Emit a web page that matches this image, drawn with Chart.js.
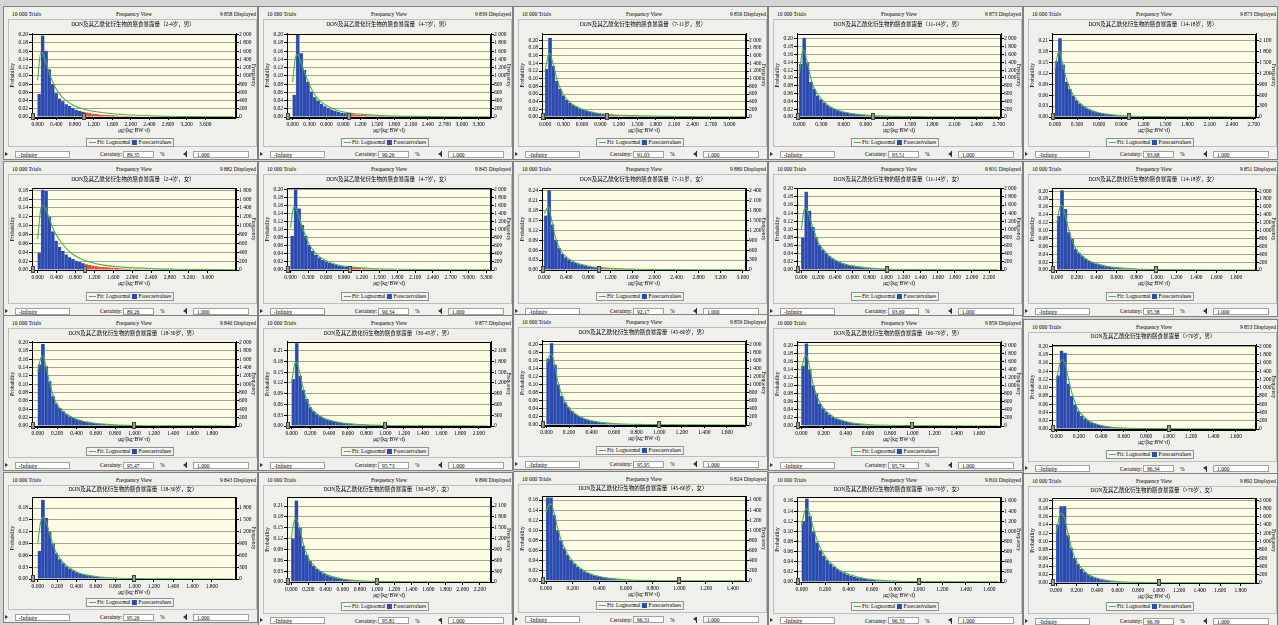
<!DOCTYPE html>
<html><head><meta charset="utf-8">
<script src="https://cdn.jsdelivr.net/npm/chart.js@4.4.0/dist/chart.umd.min.js"></script>
<style>
html,body{margin:0;padding:0;background:#d4d4d4;width:1279px;height:625px;overflow:hidden;position:relative;}
.pn{position:absolute;background:#efefeb;border:1px solid #808080;box-sizing:border-box;}
.tx{position:absolute;height:8px;line-height:8px;white-space:nowrap;font-family:"Liberation Serif","Noto Sans CJK SC",serif;font-size:5.5px;color:#000;}
.inr{position:absolute;border:1px solid #bdbdbd;box-sizing:border-box;}
.leg{position:absolute;height:9px;line-height:7px;border:1px solid #8f8f8f;background:#f3f3ef;white-space:nowrap;font-family:"Liberation Serif",serif;font-size:5.5px;padding:0 2px;box-sizing:border-box;transform:translateX(-50%);}
.gl{display:inline-block;width:7px;height:1px;background:#4caf50;vertical-align:middle;margin-right:1px;}
.bq{display:inline-block;width:5px;height:5px;background:#2b4aae;vertical-align:middle;margin:0 1px 0 2px;}
.bx{position:absolute;height:7px;line-height:6px;background:#fff;border:1px solid #a0a0a0;box-sizing:border-box;font-family:"Liberation Serif",serif;font-size:5.5px;padding-left:3px;white-space:nowrap;}
.tr{position:absolute;width:0;height:0;border-top:2.5px solid transparent;border-bottom:2.5px solid transparent;}
canvas{position:absolute;}
</style></head>
<body>
<script>
// ---------------- data ----------------
const TRIALS = '10 000 Trials';
const VIEW = 'Frequency View';
const TITLE_PREFIX = 'DON及其乙酰化衍生物的膳食暴露量';
const X_TITLE = 'μg/(kg·BW·d)';
const Y_TITLE = 'Probability';
const Y2_TITLE = 'Frequency';
const LEG_FIT = 'Fit: Lognormal';
const LEG_BAR = 'Forecastvalues';
const lowerBound = '-Infinity';
const upperBound = '1.000';
const cutoff = 1.0;
const trialsCount = 10000;

const groups = ['2-4岁，男','4-7岁，男','7-11岁，男','11-14岁，男','14-18岁，男',
  '2-4岁，女','4-7岁，女','7-11岁，女','11-14岁，女','14-18岁，女',
  '18-30岁，男','30-45岁，男','45-60岁，男','60-70岁，男','>70岁，男',
  '18-30岁，女','30-45岁，女','45-60岁，女','60-70岁，女','>70岁，女'];
const displayed = ['9 858','9 839','9 856','9 873','9 873','9 882','9 845','9 880','9 831','9 851',
  '9 840','9 877','9 859','9 859','9 853','9 843','9 890','9 824','9 810','9 892'];
const certainty = ['89.35','90.26','91.03','93.51','93.68','89.26','90.34','92.17','93.69','95.38',
  '95.47','95.73','95.95','95.74','96.34','95.26','95.81','96.31','96.33','96.39'];

const xTickStep = [0.4,0.3,0.3,0.3,0.3, 0.4,0.3,0.4,0.2,0.2, 0.2,0.2,0.2,0.2,0.2, 0.2,0.2,0.2,0.2,0.2];
const xTickLast = [3.6,3.3,3.0,2.7,2.7, 3.6,3.3,3.6,2.2,1.8, 1.8,2.0,1.6,1.6,1.6, 1.8,2.2,1.4,1.6,1.8];
const xAxisMin = [-0.12,-0.10,-0.05,-0.03,-0.04, -0.12,-0.06,-0.04,-0.05,-0.05, -0.06,-0.05,-0.04,-0.04,-0.04, -0.06,-0.05,-0.03,-0.04,-0.04];
const xAxisMax = [4.26,3.52,3.27,2.73,2.73, 4.2,3.38,3.66,2.34,2.0, 2.05,2.13,1.77,1.8,1.78, 2.05,2.33,1.5,1.7,1.95];
const yAxisMax = [0.203,0.203,0.218,0.214,0.229, 0.185,0.204,0.247,0.202,0.208, 0.202,0.235,0.21,0.21,0.205, 0.208,0.235,0.168,0.168,0.205];
const yTickStep = [0.02,0.02,0.02,0.02,0.03, 0.02,0.02,0.03,0.02,0.02, 0.02,0.03,0.02,0.02,0.02, 0.03,0.03,0.02,0.02,0.02];
const binWidth = [0.072,0.060,0.054,0.045,0.045, 0.071,0.057,0.060,0.039,0.034, 0.035,0.036,0.030,0.030,0.030, 0.035,0.040,0.025,0.029,0.033];

const bars01 = [0.056,0.198,0.161,0.116,0.080,0.058,0.045,0.038,0.031,0.027,0.022,0.017,0.015,0.013,0.011,0.009,0.008,0.007,0.006,0.0055,0.005,0.0045,0.004,0.0035,0.003,0.0028,0.0025,0.0022,0.002,0.0018,0.0015,0.0013,0.0012,0.001,0.0009,0.0008,0.0007,0.0006,0.0005,0.0004];
const bars02 = [0.054,0.200,0.155,0.114,0.086,0.062,0.048,0.039,0.032,0.026,0.022,0.018,0.015,0.0125,0.0105,0.009,0.0078,0.0068,0.006,0.0052,0.0046,0.004,0.0036,0.0032,0.0028,0.0025,0.0022,0.002,0.0018,0.0016,0.0014,0.0012,0.0011,0.001,0.0009,0.0008,0.0007,0.0006,0.0005,0.0005];
const bars03 = [0.125,0.207,0.133,0.094,0.073,0.056,0.045,0.037,0.031,0.026,0.022,0.0185,0.0157,0.0133,0.0113,0.0097,0.0084,0.0073,0.0064,0.0056,0.0049,0.0043,0.0038,0.0034,0.003,0.0027,0.0024,0.0021,0.0019,0.0017,0.0015,0.0013,0.0012,0.0011,0.001,0.0009,0.0008,0.0007];
const bars04 = [0.136,0.203,0.139,0.090,0.072,0.055,0.045,0.037,0.030,0.025,0.021,0.0175,0.0148,0.0125,0.0106,0.009,0.0077,0.0066,0.0057,0.0049,0.0043,0.0037,0.0033,0.0029,0.0026,0.0023,0.002,0.0018,0.0016,0.0014,0.0012,0.0011,0.001,0.0009,0.0008,0.0007,0.0006];
const bars05 = [0.153,0.216,0.144,0.096,0.077,0.058,0.046,0.037,0.030,0.024,0.0195,0.016,0.0132,0.0109,0.009,0.0075,0.0063,0.0053,0.0045,0.0038,0.0033,0.0028,0.0024,0.0021,0.0018,0.0016,0.0014,0.0012,0.0011,0.001,0.0009,0.0008,0.0007,0.0006,0.0005];
const bars06 = [0.039,0.181,0.178,0.120,0.087,0.066,0.052,0.043,0.035,0.029,0.025,0.021,0.018,0.015,0.013,0.011,0.0097,0.0086,0.0076,0.0068,0.006,0.0054,0.0048,0.0043,0.0038,0.0034,0.003,0.0027,0.0024,0.0021,0.0019,0.0017,0.0015,0.0013,0.0012,0.001,0.0009,0.0008,0.0007,0.0006];
const bars07 = [0.085,0.200,0.153,0.112,0.085,0.062,0.048,0.038,0.031,0.025,0.021,0.0175,0.0148,0.0125,0.0107,0.0092,0.008,0.007,0.0062,0.0055,0.0049,0.0044,0.0039,0.0035,0.0031,0.0028,0.0025,0.0022,0.002,0.0018,0.0016,0.0014,0.0012,0.0011,0.001,0.0009,0.0008,0.0007,0.0006,0.0005];
const bars08 = [0.164,0.240,0.137,0.091,0.066,0.048,0.038,0.031,0.025,0.021,0.0175,0.0147,0.0124,0.0105,0.009,0.0077,0.0066,0.0057,0.005,0.0044,0.0039,0.0034,0.003,0.0027,0.0024,0.0021,0.0019,0.0017,0.0015,0.0013,0.0012,0.0011,0.001,0.0009,0.0008,0.0007];
const bars09 = [0.080,0.193,0.146,0.106,0.080,0.062,0.050,0.041,0.034,0.028,0.023,0.019,0.016,0.0135,0.0115,0.0098,0.0084,0.0072,0.0062,0.0054,0.0047,0.0041,0.0036,0.0032,0.0028,0.0025,0.0022,0.002,0.0018,0.0016,0.0014,0.0013,0.0012,0.0011,0.001,0.0009,0.0008,0.0007,0.0006,0.0005];
const bars10 = [0.137,0.202,0.155,0.096,0.079,0.054,0.043,0.035,0.028,0.023,0.019,0.016,0.0135,0.0114,0.0097,0.0083,0.0071,0.0061,0.0052,0.0045,0.0039,0.0034,0.003,0.0026,0.0023,0.002,0.0018,0.0016,0.0014,0.0012,0.0011,0.001,0.0009,0.0008,0.0007,0.0006,0.0005,0.0005,0.0004];
const bars11 = [0.147,0.196,0.143,0.107,0.071,0.054,0.043,0.035,0.028,0.023,0.019,0.016,0.0135,0.0114,0.0097,0.0083,0.0071,0.0061,0.0052,0.0045,0.0039,0.0034,0.003,0.0026,0.0023,0.002,0.0018,0.0016,0.0014,0.0012,0.0011,0.001,0.0009,0.0008,0.0007,0.0006,0.0005,0.0005,0.0004];
const bars12 = [0.130,0.230,0.140,0.100,0.075,0.052,0.041,0.033,0.027,0.022,0.018,0.0153,0.0129,0.0109,0.0093,0.008,0.0068,0.0058,0.005,0.0043,0.0037,0.0033,0.0029,0.0025,0.0022,0.0019,0.0017,0.0015,0.0013,0.0012,0.0011,0.001,0.0009,0.0008,0.0007,0.0006,0.0005,0.0005,0.0004];
const bars13 = [0.165,0.203,0.150,0.100,0.072,0.056,0.044,0.035,0.028,0.0225,0.018,0.0148,0.0122,0.0101,0.0084,0.007,0.0059,0.005,0.0042,0.0036,0.0031,0.0027,0.0023,0.002,0.0017,0.0015,0.0013,0.0011,0.001,0.0009,0.0008,0.0007,0.0006,0.0005,0.0005,0.0004,0.0004,0.0003];
const bars14 = [0.150,0.205,0.140,0.100,0.080,0.056,0.044,0.035,0.028,0.0225,0.018,0.0148,0.0122,0.0101,0.0084,0.007,0.0059,0.005,0.0042,0.0036,0.0031,0.0027,0.0023,0.002,0.0017,0.0015,0.0013,0.0011,0.001,0.0009,0.0008,0.0007,0.0006,0.0005,0.0005,0.0004,0.0004,0.0003];
const bars15 = [0.130,0.190,0.185,0.110,0.080,0.058,0.043,0.032,0.025,0.0195,0.0153,0.012,0.0095,0.0076,0.0061,0.005,0.0041,0.0034,0.0028,0.0023,0.0019,0.0016,0.0013,0.0011,0.001,0.0009,0.0008,0.0007,0.0006,0.0005,0.0005,0.0004,0.0004,0.0003];
const bars16 = [0.071,0.201,0.155,0.120,0.090,0.065,0.050,0.040,0.032,0.026,0.021,0.017,0.014,0.0115,0.0095,0.0079,0.0066,0.0055,0.0046,0.0039,0.0033,0.0028,0.0024,0.0021,0.0018,0.0016,0.0014,0.0012,0.0011,0.001,0.0009,0.0008,0.0007,0.0006,0.0005,0.0005,0.0004];
const bars17 = [0.120,0.225,0.150,0.100,0.075,0.058,0.045,0.036,0.029,0.0235,0.019,0.0155,0.0127,0.0104,0.0086,0.0071,0.0059,0.0049,0.0041,0.0035,0.003,0.0026,0.0022,0.0019,0.0016,0.0014,0.0012,0.0011,0.001,0.0009,0.0008,0.0007,0.0006,0.0005,0.0005,0.0004];
const bars18 = [0.165,0.165,0.130,0.100,0.080,0.064,0.052,0.042,0.034,0.028,0.023,0.019,0.0158,0.0132,0.011,0.0092,0.0077,0.0065,0.0055,0.0047,0.004,0.0034,0.0029,0.0025,0.0022,0.0019,0.0017,0.0015,0.0013,0.0012,0.0011,0.001,0.0009,0.0008,0.0007,0.0007,0.0006,0.0006,0.0005,0.0005,0.0004,0.0004];
const bars19 = [0.120,0.165,0.130,0.100,0.078,0.063,0.052,0.043,0.036,0.030,0.025,0.021,0.0175,0.0147,0.0123,0.0104,0.0088,0.0075,0.0064,0.0055,0.0047,0.004,0.0035,0.003,0.0026,0.0023,0.002,0.0018,0.0016,0.0014,0.0012,0.0011,0.001,0.0009,0.0008,0.0007,0.0006,0.0006,0.0005,0.0005,0.0004];
const bars20 = [0.140,0.185,0.185,0.115,0.085,0.060,0.045,0.034,0.026,0.020,0.0158,0.0125,0.010,0.0081,0.0066,0.0054,0.0045,0.0037,0.0031,0.0026,0.0022,0.0019,0.0016,0.0014,0.0012,0.0011,0.001,0.0009,0.0008,0.0007,0.0006,0.0006,0.0005,0.0005,0.0004,0.0004];

const fit01 = [[0,0.09],[0.07,0.157],[0.12,0.152],[0.2,0.125],[0.3,0.092],[0.4,0.068],[0.5,0.052],[0.6,0.041],[0.8,0.027],[1.0,0.019],[1.3,0.012],[1.6,0.008],[2.0,0.005],[2.6,0.0025],[3.2,0.0013],[4.2,0.0005]];
const fit02 = [[0,0.085],[0.05,0.145],[0.09,0.152],[0.15,0.132],[0.25,0.095],[0.35,0.064],[0.45,0.044],[0.6,0.028],[0.8,0.016],[1.0,0.0098],[1.3,0.0058],[1.7,0.0028],[2.2,0.0014],[2.8,0.0007],[3.5,0.0003]];
const fit03 = [[0,0.12],[0.05,0.16],[0.08,0.166],[0.12,0.145],[0.2,0.095],[0.3,0.058],[0.4,0.039],[0.5,0.028],[0.6,0.021],[0.8,0.0115],[1.0,0.0068],[1.3,0.0042],[1.7,0.0024],[2.2,0.0013],[2.8,0.0007],[3.25,0.0005]];
const fit04 = [[0,0.11],[0.04,0.165],[0.06,0.172],[0.1,0.148],[0.15,0.105],[0.2,0.075],[0.3,0.046],[0.4,0.029],[0.5,0.019],[0.6,0.013],[0.8,0.0068],[1.0,0.0035],[1.3,0.0017],[1.7,0.0008],[2.2,0.0004],[2.7,0.0002]];
const fit05 = [[0,0.13],[0.04,0.175],[0.06,0.18],[0.1,0.15],[0.15,0.108],[0.2,0.079],[0.3,0.046],[0.4,0.028],[0.5,0.018],[0.6,0.0115],[0.8,0.0055],[1.0,0.0027],[1.3,0.0012],[1.8,0.0005],[2.4,0.0002],[2.7,0.0001]];
const fit06 = [[0,0.07],[0.07,0.14],[0.11,0.146],[0.16,0.14],[0.25,0.115],[0.35,0.088],[0.5,0.062],[0.7,0.039],[0.9,0.026],[1.1,0.018],[1.4,0.011],[1.8,0.0065],[2.4,0.0032],[3.0,0.0017],[3.8,0.0008],[4.2,0.0006]];
const fit07 = [[0,0.105],[0.04,0.15],[0.07,0.158],[0.1,0.15],[0.2,0.105],[0.3,0.068],[0.4,0.046],[0.5,0.032],[0.6,0.023],[0.8,0.0125],[1.0,0.0078],[1.3,0.0045],[1.7,0.0024],[2.2,0.0012],[2.8,0.0006],[3.35,0.0003]];
const fit08 = [[0,0.17],[0.05,0.186],[0.08,0.19],[0.12,0.163],[0.2,0.1],[0.3,0.058],[0.45,0.033],[0.6,0.02],[0.8,0.0115],[1.0,0.0072],[1.3,0.0042],[1.7,0.0022],[2.2,0.0012],[2.8,0.0006],[3.6,0.0003]];
const fit09 = [[0,0.1],[0.03,0.145],[0.055,0.152],[0.08,0.142],[0.12,0.115],[0.16,0.09],[0.2,0.068],[0.3,0.04],[0.4,0.024],[0.5,0.0155],[0.6,0.0102],[0.8,0.0049],[1.0,0.0026],[1.3,0.0013],[2.3,0.0003]];
const fit10 = [[0,0.12],[0.03,0.16],[0.05,0.165],[0.08,0.142],[0.12,0.1],[0.16,0.07],[0.2,0.05],[0.3,0.027],[0.4,0.0155],[0.5,0.0095],[0.6,0.006],[0.8,0.0024],[1.0,0.0012],[1.3,0.0005],[2.0,0.0001]];
const fit11 = [[0,0.13],[0.03,0.162],[0.05,0.168],[0.08,0.148],[0.12,0.105],[0.16,0.073],[0.2,0.051],[0.3,0.028],[0.4,0.016],[0.5,0.0099],[0.6,0.0063],[0.8,0.0026],[1.0,0.0012],[1.3,0.0005],[2.0,0.0001]];
const fit12 = [[0,0.12],[0.03,0.17],[0.05,0.178],[0.08,0.155],[0.12,0.108],[0.16,0.074],[0.2,0.052],[0.3,0.028],[0.4,0.0165],[0.5,0.0102],[0.6,0.0066],[0.8,0.003],[1.0,0.0014],[1.4,0.0005],[2.1,0.0002]];
const fit13 = [[0,0.15],[0.025,0.172],[0.045,0.176],[0.07,0.152],[0.1,0.108],[0.14,0.072],[0.2,0.042],[0.3,0.02],[0.4,0.0105],[0.5,0.006],[0.6,0.0037],[0.8,0.0016],[1.0,0.0008],[1.3,0.0003],[1.75,0.0001]];
const fit14 = [[0,0.14],[0.025,0.17],[0.045,0.175],[0.07,0.152],[0.1,0.11],[0.14,0.074],[0.2,0.043],[0.3,0.021],[0.4,0.011],[0.5,0.0062],[0.6,0.0038],[0.8,0.0017],[1.0,0.0008],[1.3,0.0003],[1.78,0.0001]];
const fit15 = [[0,0.12],[0.03,0.158],[0.05,0.168],[0.08,0.155],[0.12,0.105],[0.16,0.068],[0.2,0.044],[0.3,0.018],[0.4,0.0085],[0.5,0.0042],[0.6,0.0022],[0.8,0.0009],[1.0,0.0004],[1.3,0.0002],[1.76,0.0001]];
const fit16 = [[0,0.09],[0.03,0.145],[0.05,0.155],[0.08,0.148],[0.12,0.118],[0.16,0.085],[0.2,0.062],[0.3,0.033],[0.4,0.018],[0.5,0.0105],[0.6,0.0064],[0.8,0.0026],[1.0,0.0012],[1.4,0.0004],[2.0,0.0001]];
const fit17 = [[0,0.12],[0.03,0.165],[0.055,0.175],[0.09,0.155],[0.14,0.105],[0.2,0.066],[0.3,0.037],[0.4,0.022],[0.5,0.0135],[0.6,0.0083],[0.8,0.0034],[1.0,0.0016],[1.4,0.0005],[2.3,0.0001]];
const fit18 = [[0,0.135],[0.02,0.15],[0.04,0.152],[0.06,0.135],[0.09,0.102],[0.12,0.076],[0.16,0.054],[0.2,0.039],[0.3,0.018],[0.4,0.009],[0.5,0.0047],[0.6,0.0026],[0.8,0.001],[1.0,0.0005],[1.48,0.0002]];
const fit19 = [[0,0.11],[0.025,0.14],[0.045,0.145],[0.07,0.133],[0.1,0.106],[0.15,0.072],[0.2,0.05],[0.3,0.027],[0.4,0.0155],[0.5,0.009],[0.6,0.005],[0.8,0.0019],[1.0,0.0009],[1.68,0.0002]];
const fit20 = [[0,0.12],[0.03,0.158],[0.05,0.168],[0.08,0.158],[0.12,0.115],[0.16,0.076],[0.2,0.052],[0.3,0.023],[0.4,0.0115],[0.5,0.0062],[0.6,0.0036],[0.8,0.0014],[1.0,0.0006],[1.4,0.0002],[1.93,0.0001]];

const barSeries = [bars01,bars02,bars03,bars04,bars05,bars06,bars07,bars08,bars09,bars10,bars11,bars12,bars13,bars14,bars15,bars16,bars17,bars18,bars19,bars20];
const fitSeries = [fit01,fit02,fit03,fit04,fit05,fit06,fit07,fit08,fit09,fit10,fit11,fit12,fit13,fit14,fit15,fit16,fit17,fit18,fit19,fit20];

// ---------------- layout ----------------
const colLeft = [3, 258, 513, 768, 1023];
const panelW = 255;
const rowMetrics = [
  {h:14, t:25, pt:33.5, pb:117, lg:142, f:154},
  {h:168.5, t:180, pt:188, pb:270.3, lg:296.3, f:311.3},
  {h:323, t:333.5, pt:341, pb:425, lg:451, f:465},
  {h:480, t:490, pt:497, pb:578.5, lg:602.7, f:617}
];
const panelShift = [0,0,0,0,0, 0,0,0,0,0, 0,0,-1,0,3.5, 0,0,-1,0,0.5];
const panelStretch = [0,0,0,0,0, 0,0,0,0,0, 0,0,0,0,0, 0,3.5,3.5,3.5,3.5];

const COL_BLUE = '#2b4aae', COL_RED = '#e2463a', COL_GREEN = '#4caf50', PLOT_BG = '#fdfde4', GRID = '#a3a3a3';
const FONT = '"Liberation Serif","Noto Sans CJK SC",serif';

function el(tag, cls, css, html) {
  const e = document.createElement(tag);
  if (cls) e.className = cls;
  Object.assign(e.style, css);
  if (html !== undefined) e.innerHTML = html;
  document.body.appendChild(e);
  return e;
}
function text(str, x, y, align) {
  const e = el('div', 'tx', {left: x + 'px', top: (y - 4) + 'px'});
  e.textContent = str;
  if (align === 'center') e.style.transform = 'translateX(-50%)';
  if (align === 'right') e.style.transform = 'translateX(-100%)';
  return e;
}
function fmtThousands(v) {
  const s = String(Math.round(v));
  return s.length > 3 ? s.slice(0, -3) + ' ' + s.slice(-3) : s;
}

const framePlugin = {
  id: 'frame',
  beforeDraw(chart) {
    const {ctx, chartArea: a} = chart;
    ctx.save();
    ctx.fillStyle = PLOT_BG;
    ctx.fillRect(a.left, a.top, a.right - a.left, a.bottom - a.top);
    ctx.restore();
  },
  afterDraw(chart) {
    const {ctx, chartArea: a, scales} = chart;
    ctx.save();
    ctx.strokeStyle = '#000';
    ctx.lineWidth = 1;
    ctx.strokeRect(Math.round(a.left) + 0.5, Math.round(a.top) + 0.5, Math.round(a.right - a.left) - 1, Math.round(a.bottom - a.top));
    const xs = [a.left + 1, scales.x.getPixelForValue(cutoff)];
    xs.forEach(x => {
      ctx.fillStyle = '#9a9a9a';
      ctx.fillRect(Math.round(x) - 1, a.bottom - 3, 3, 6);
      ctx.strokeStyle = '#444';
      ctx.strokeRect(Math.round(x) - 1.5, a.bottom - 3.5, 3, 6);
    });
    ctx.restore();
  }
};

for (let p = 0; p < 20; p++) {
  const r = Math.floor(p / 5), c = p % 5;
  const L = colLeft[c], base = rowMetrics[r], s = panelShift[p], st = panelStretch[p];
  const m = {h: base.h + s, t: base.t + s, pt: base.pt + s, pb: base.pb + s + st, lg: base.lg + s + st, f: base.f + s + st};
  const top = m.h - 8, bottom = m.f + 6;
  el('div', 'pn', {left: L + 'px', top: top + 'px', width: panelW + 'px', height: (bottom - top) + 'px'});
  text(TRIALS, L + 9, m.h, 'left');
  text(VIEW, L + 131, m.h, 'center');
  text(displayed[p] + ' Displayed', L + 253, m.h, 'right');
  el('div', 'inr', {left: (L + 5) + 'px', top: (m.h + 5) + 'px', width: '249px', height: ((m.f - 7) - (m.h + 5)) + 'px'});

  el('div', 'leg', {left: (L + 127) + 'px', top: (m.lg - 4.5) + 'px'},
    '<i class="gl"></i>' + LEG_FIT + '<i class="bq"></i>' + LEG_BAR);

  el('div', 'tr', {left: (L + 2) + 'px', top: (m.f - 2.5) + 'px', borderLeft: '3px solid #333'});
  el('div', 'bx', {left: (L + 12) + 'px', top: (m.f - 3.5) + 'px', width: '55px'}).textContent = lowerBound;
  text('Certainty:', L + 97, m.f, 'left');
  el('div', 'bx', {left: (L + 120) + 'px', top: (m.f - 3.5) + 'px', width: '31px'}).textContent = certainty[p];
  text('%', L + 157, m.f, 'left');
  el('div', 'tr', {left: (L + 180) + 'px', top: (m.f - 2.5) + 'px', borderRight: '3px solid #333'});
  el('div', '', {position: 'absolute', left: (L + 183) + 'px', top: (m.f - 3) + 'px', width: '1px', height: '6px', background: '#333'});
  el('div', 'bx', {left: (L + 190) + 'px', top: (m.f - 3.5) + 'px', width: '56px'}).textContent = upperBound;

  const cTop = m.t - 6, cH = Math.round(m.pb + 17 - cTop);
  const cv = el('canvas', '', {left: (L + 6) + 'px', top: cTop + 'px'});
  cv.width = 248; cv.height = cH;

  const bars = barSeries[p], w = binWidth[p];
  const tickFont = {family: FONT, size: 5.5};
  new Chart(cv.getContext('2d'), {
    type: 'bar',
    data: {
      datasets: [
        {type: 'line', label: LEG_FIT, data: fitSeries[p].map(([x, y]) => ({x, y})),
         borderColor: COL_GREEN, borderWidth: 1.1, pointRadius: 0, cubicInterpolationMode: 'monotone', fill: false, order: 0, yAxisID: 'y'},
        {type: 'bar', label: LEG_BAR, data: bars.map((v, i) => ({x: (i + 0.5) * w, y: v})),
         backgroundColor: bars.map((v, i) => ((i + 0.5) * w >= cutoff ? COL_RED : COL_BLUE)),
         borderColor: bars.map((v, i) => ((i + 0.5) * w >= cutoff ? '#f08a80' : '#6c84cf')),
         borderWidth: {left: 0.5, right: 0.5, top: 0, bottom: 0},
         barPercentage: 1, categoryPercentage: 1, order: 1, yAxisID: 'y'}
      ]
    },
    options: {
      responsive: false, animation: false, devicePixelRatio: 1,
      layout: {padding: 0},
      plugins: {
        legend: {display: false}, tooltip: {enabled: false},
        title: {display: true, text: TITLE_PREFIX + '（' + groups[p] + '）', color: '#000',
                font: {family: FONT, size: 5.5, weight: 'normal'},
                padding: {top: 2.7, bottom: Math.max(1, m.pt - m.t - 3.3)}}
      },
      scales: {
        x: {type: 'linear', min: xAxisMin[p], max: xAxisMax[p], offset: false, bounds: 'ticks',
            grid: {drawOnChartArea: false, offset: false, tickLength: 3, color: '#000'},
            border: {color: '#000'},
            ticks: {stepSize: xTickStep[p], maxTicksLimit: 100, autoSkip: false, maxRotation: 0, includeBounds: false, padding: 1,
                    color: '#000', font: tickFont, callback: v => Number(v).toFixed(3)},
            afterBuildTicks: sc => { sc.ticks = sc.ticks.filter(t => t.value >= -1e-9 && t.value <= xTickLast[p] + 1e-9); },
            afterFit: sc => { sc.height = 17; },
            title: {display: true, text: X_TITLE, color: '#000', font: tickFont, padding: {top: 0, bottom: 0}}},
        y: {position: 'left', min: 0, max: yAxisMax[p], bounds: 'ticks',
            grid: {color: GRID, tickColor: '#000', tickLength: 3},
            border: {color: '#000'},
            ticks: {stepSize: yTickStep[p], maxTicksLimit: 100, autoSkip: false, includeBounds: false, padding: 1, color: '#000', font: tickFont,
                    callback: v => Number(v).toFixed(2)},
            afterFit: sc => { sc.width = 23; },
            title: {display: true, text: Y_TITLE, color: '#000', font: tickFont, padding: 0}},
        y2: {position: 'right', min: 0, max: yAxisMax[p], bounds: 'ticks',
            grid: {drawOnChartArea: false, tickColor: '#000', tickLength: 3},
            border: {color: '#000'},
            ticks: {stepSize: yTickStep[p], maxTicksLimit: 100, autoSkip: false, includeBounds: false, padding: 0, color: '#000', font: tickFont,
                    callback: v => fmtThousands(v * trialsCount)},
            afterFit: sc => { sc.width = 21; },
            title: {display: true, text: Y2_TITLE, color: '#000', font: tickFont, padding: 0}}
      }
    },
    plugins: [framePlugin]
  });
}
</script>
</body></html>
